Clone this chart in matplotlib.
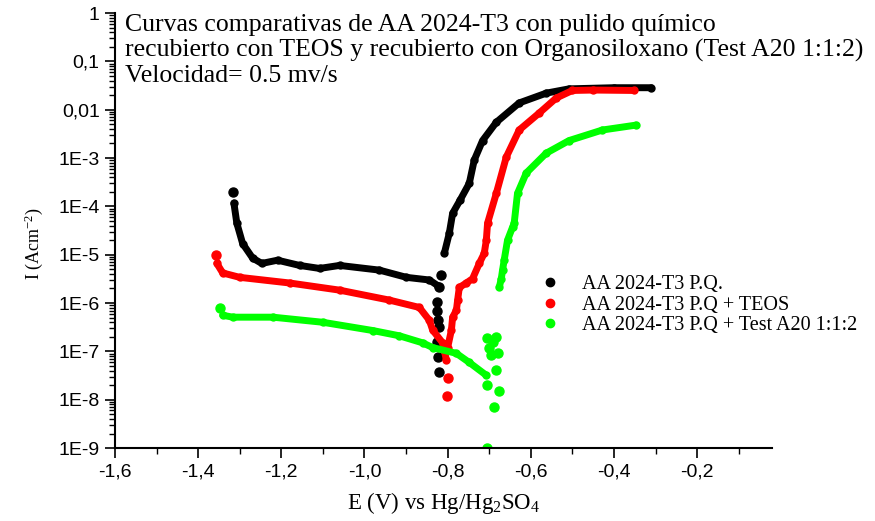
import matplotlib
matplotlib.use("Agg")
import matplotlib.pyplot as plt
from matplotlib.lines import Line2D
from matplotlib.ticker import FixedLocator, MultipleLocator, LogLocator, NullFormatter

# --- data (E in V, I in A/cm2) ---
# AA 2024-T3 P.Q.
pq_cat_E = [-1.314, -1.307, -1.293, -1.269, -1.247, -1.209, -1.156, -1.108, -1.06, -0.964, -0.899, -0.844, -0.824]
pq_cat_I = [1.17e-4, 4.5e-5, 1.7e-5, 8.5e-6, 6.6e-6, 7.7e-6, 6.0e-6, 5.2e-6, 6.0e-6, 4.8e-6, 3.4e-6, 3.0e-6, 2.3e-6]
pq_pts_E = [-1.317, -0.826, -0.826, -0.824, -0.822, -0.826, -0.824, -0.822, -0.820, -0.815]
pq_pts_I = [2.0e-4, 1.05e-6, 7.0e-7, 4.4e-7, 3.2e-7, 1.55e-7, 7.6e-8, 3.7e-8, 2.1e-6, 3.8e-6]
pq_an_E = [-0.808, -0.796, -0.788, -0.770, -0.748, -0.736, -0.716, -0.683, -0.628, -0.563, -0.508, -0.40, -0.31]
pq_an_I = [1.07e-5, 2.8e-5, 7.2e-5, 1.35e-4, 3.0e-4, 9.1e-4, 2.3e-3, 5.5e-3, 1.38e-2, 2.2e-2, 2.7e-2, 2.85e-2, 2.85e-2]

# AA 2024-T3 P.Q + TEOS
teos_cat_E = [-1.355, -1.341, -1.30, -1.18, -1.06, -0.94, -0.868, -0.844, -0.836, -0.812, -0.803]
teos_cat_I = [6.6e-6, 4.2e-6, 3.4e-6, 2.6e-6, 1.85e-6, 1.15e-6, 8.1e-7, 4.4e-7, 2.75e-7, 1.5e-7, 6.6e-8]
teos_pts_E = [-1.358, -0.800, -0.801]
teos_pts_I = [9.8e-6, 2.8e-8, 1.2e-8]
teos_an_E = [-0.800, -0.791, -0.788, -0.779, -0.776, -0.772, -0.755, -0.740, -0.724, -0.712, -0.707, -0.704,
             -0.683, -0.659, -0.628, -0.58, -0.539, -0.50, -0.45, -0.352]
teos_an_I = [1.2e-7, 2.75e-7, 5.1e-7, 7.1e-7, 1.15e-6, 2.1e-6, 2.6e-6, 3.2e-6, 6.6e-6, 1.07e-5, 2.0e-5, 4.5e-5,
             1.86e-4, 1.05e-3, 3.8e-3, 8.5e-3, 1.74e-2, 2.5e-2, 2.55e-2, 2.5e-2]

# AA 2024-T3 P.Q + Test A20 1:1:2
a20_cat_E = [-1.341, -1.317, -1.22, -1.10, -0.98, -0.916, -0.86, -0.836, -0.779, -0.748, -0.707]
a20_cat_I = [5.6e-7, 5.1e-7, 5.1e-7, 4.0e-7, 2.7e-7, 2.1e-7, 1.5e-7, 1.2e-7, 9.1e-8, 5.9e-8, 3.2e-8]
a20_pts_E = [-1.348, -0.7045, -0.688, -0.676, -0.7045, -0.683, -0.695, -0.680, -0.700, -0.683, -0.7045, -0.690]
a20_pts_I = [7.8e-7, 1.0e-9, 7.2e-9, 1.55e-8, 2.0e-8, 4.1e-8, 8.3e-8, 9.1e-8, 1.2e-7, 1.95e-7, 1.86e-7, 1.6e-7]
a20_an_E = [-0.676, -0.671, -0.668, -0.664, -0.656, -0.644, -0.640, -0.632, -0.611, -0.563, -0.508, -0.428, -0.347]
a20_an_I = [2.1e-6, 3.2e-6, 4.8e-6, 7.8e-6, 2.0e-5, 3.7e-5, 4.5e-5, 1.86e-4, 4.9e-4, 1.26e-3, 2.3e-3, 3.8e-3, 4.8e-3]

labels = ["AA 2024-T3 P.Q.", "AA 2024-T3 P.Q + TEOS", "AA 2024-T3 P.Q + Test A20 1:1:2"]
colors = ["black", "#ff0000", "#00ff00"]

y_ticks = [1, 1e-1, 1e-2, 1e-3, 1e-4, 1e-5, 1e-6, 1e-7, 1e-8, 1e-9]
y_ticklabels = ["1", "0,1", "0,01", "1E-3", "1E-4", "1E-5", "1E-6", "1E-7", "1E-8", "1E-9"]
x_ticks = [-1.6, -1.4, -1.2, -1.0, -0.8, -0.6, -0.4, -0.2]
x_ticklabels = ["-1,6", "-1,4", "-1,2", "-1,0", "-0,8", "-0,6", "-0,4", "-0,2"]

serif = "Liberation Serif"
sans = "Liberation Sans"
plt.rcParams["mathtext.fontset"] = "custom"
plt.rcParams["mathtext.rm"] = serif
plt.rcParams["mathtext.it"] = serif + ":italic"

fig = plt.figure(figsize=(8.75, 5.21), dpi=100)
ax = fig.add_axes([0.1314, 0.140, 0.7509, 0.835])

series = [
    (pq_cat_E, pq_cat_I, pq_pts_E, pq_pts_I, pq_an_E, pq_an_I),
    (teos_cat_E, teos_cat_I, teos_pts_E, teos_pts_I, teos_an_E, teos_an_I),
    (a20_cat_E, a20_cat_I, a20_pts_E, a20_pts_I, a20_an_E, a20_an_I),
]
for (cE, cI, pE, pI, aE, aI), col in zip(series, colors):
    ax.plot(cE, cI, color=col, lw=5, marker="o", ms=5, solid_capstyle="round", solid_joinstyle="round")
    ax.plot(aE, aI, color=col, lw=5, marker="o", ms=5, solid_capstyle="round", solid_joinstyle="round")
    ax.plot(pE, pI, color=col, ls="none", marker="o", ms=6.5)

ax.set_yscale("log")
ax.set_xlim(-1.6, -0.02)
ax.set_ylim(1e-9, 1)

ax.yaxis.set_major_locator(FixedLocator(y_ticks))
ax.set_yticklabels(y_ticklabels, fontfamily=sans, fontsize=14)
ax.yaxis.set_minor_locator(LogLocator(base=10, subs=range(2, 10), numticks=20))
ax.yaxis.set_minor_formatter(NullFormatter())
ax.set_xticks(x_ticks)
ax.set_xticklabels(x_ticklabels, fontfamily=sans, fontsize=14)
ax.xaxis.set_minor_locator(MultipleLocator(0.1))

ax.tick_params(which="major", direction="out", length=7, width=1.2, pad=4)
ax.tick_params(which="minor", direction="out", length=4, width=1.0)
ax.spines["top"].set_visible(False)
ax.spines["right"].set_visible(False)
for s in ["left", "bottom"]:
    ax.spines[s].set_linewidth(1.5)

ax.set_xlabel("E (V) vs Hg/Hg$_2$SO$_4$", fontfamily=serif, fontsize=16.5)
ax.xaxis.set_label_coords(0.5, -0.097)
ax.set_ylabel("I (Acm$^{-2}$)", fontfamily=serif, fontsize=13)
ax.yaxis.set_label_coords(-0.106, 0.47)

ax.text(0.016, 0.998, "Curvas comparativas de AA 2024-T3 con pulido químico\n"
        "recubierto con TEOS y recubierto con Organosiloxano (Test A20 1:1:2)\n"
        "Velocidad= 0.5 mv/s", transform=ax.transAxes, va="top", ha="left",
        fontfamily=serif, fontsize=18.5, linespacing=1.16)

handles = [Line2D([], [], color=c, ls="none", marker="o", ms=6) for c in colors]
ax.legend(handles, labels, loc="upper left", bbox_to_anchor=(0.650, 0.397), frameon=False,
          prop={"family": serif, "size": 14.5}, handlelength=0.8, handletextpad=1.19,
          labelspacing=0.06, borderpad=0, borderaxespad=0)

fig.savefig("out.png", dpi=100)
